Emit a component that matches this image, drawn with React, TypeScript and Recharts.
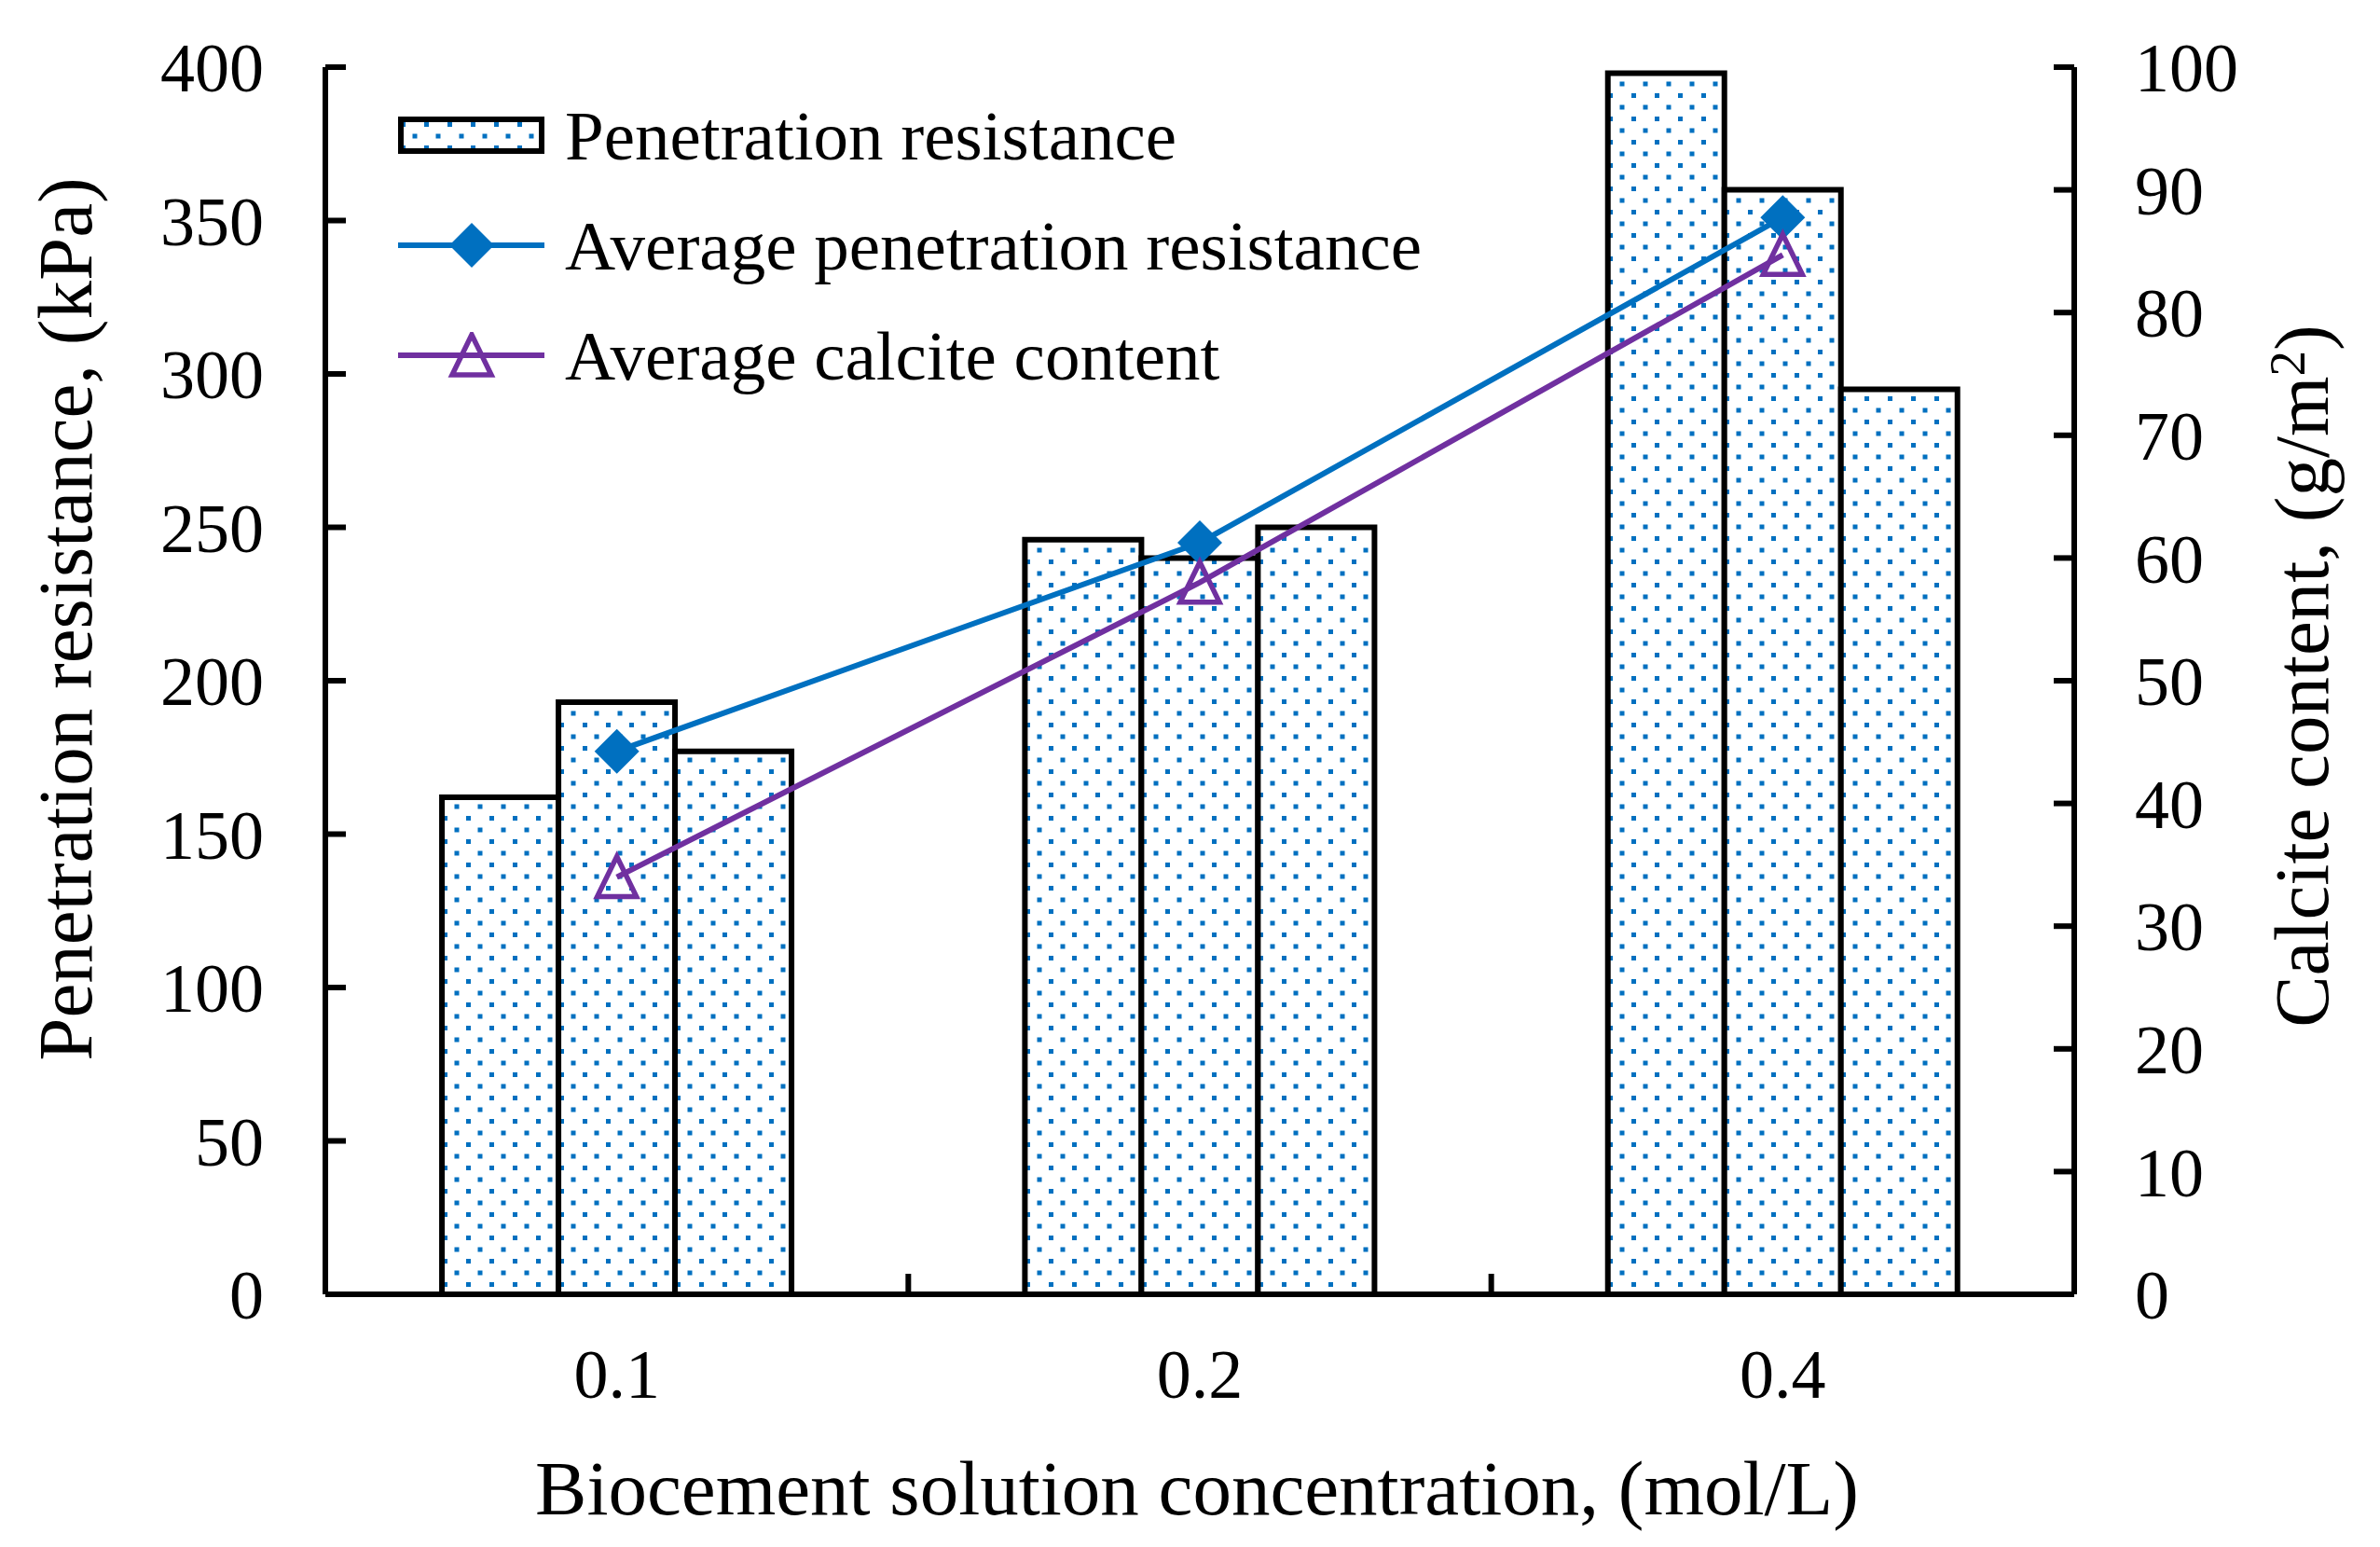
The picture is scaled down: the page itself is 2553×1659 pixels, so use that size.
import React from 'react';
import { ComposedChart, Bar, Line, XAxis, YAxis, Legend } from 'recharts';

// concentrations on the x axis (mol/L)
const concentrations = ['0.1', '0.2', '0.4'];
// penetration resistance of the three specimens, kPa
const specimenA = [162, 246, 398];
const specimenB = [193, 240, 360];
const specimenC = [177, 250, 295];
// averages
const avgPenetration = [177, 245, 351];
const avgCalcite = [34, 58, 84.7];

const leftTicks = [0, 50, 100, 150, 200, 250, 300, 350, 400];
const rightTicks = [0, 10, 20, 30, 40, 50, 60, 70, 80, 90, 100];

const BLUE = '#0070C0';
const PURPLE = '#7030A0';
const FONT = '"Liberation Serif", "Times New Roman", serif';

const data = concentrations.map((c, i) => ({
  conc: c,
  a: specimenA[i],
  b: specimenB[i],
  c: specimenC[i],
  avgPen: avgPenetration[i],
  avgCal: avgCalcite[i],
}));

const tickStyle = { fontSize: 74, fill: '#000', fontFamily: FONT };
const lineStyle = { stroke: '#000', strokeWidth: 6 };
const X_TICK_MARGIN = 59;

// category label plus an inward tick mark on the boundary to the left of the category
const categoryTick = (props: any) => {
  const { x, y, payload, index, width, visibleTicksCount } = props;
  const half = payload?.offset || width / visibleTicksCount / 2;
  const axisY = y - X_TICK_MARGIN;
  return (
    <g key={`xt-${index}`}>
      {index > 0 && (
        <line x1={x - half} x2={x - half} y1={axisY} y2={axisY - 22} stroke="#000" strokeWidth={6} />
      )}
      <text x={x} y={y} dy={52} textAnchor="middle" fontSize={74} fontFamily={FONT} fill="#000">
        {payload.value}
      </text>
    </g>
  );
};

const diamondDot = (props: any) => {
  const { cx, cy, index } = props;
  const r = 24;
  return (
    <polygon
      key={`dia-${index}`}
      points={`${cx},${cy - r} ${cx + r},${cy} ${cx},${cy + r} ${cx - r},${cy}`}
      fill={BLUE}
    />
  );
};

const triangleDot = (props: any) => {
  const { cx, cy, index } = props;
  return (
    <polygon
      key={`tri-${index}`}
      points={`${cx},${cy - 22} ${cx + 21},${cy + 21} ${cx - 21},${cy + 21}`}
      fill="none"
      stroke={PURPLE}
      strokeWidth={5.5}
    />
  );
};

const leftTitle = (props: any) => {
  const { x, y, height } = props.viewBox;
  const tx = x - 250;
  const ty = y + height / 2 - 66;
  return (
    <text
      x={tx}
      y={ty}
      transform={`rotate(-90 ${tx} ${ty})`}
      textAnchor="middle"
      fontSize={83}
      fontFamily={FONT}
      fill="#000"
    >
      Penetration resistance, (kPa)
    </text>
  );
};

const rightTitle = (props: any) => {
  const { x, y, height } = props.viewBox;
  const tx = x + 272;
  const ty = y + height / 2 - 5;
  return (
    <text
      x={tx}
      y={ty}
      transform={`rotate(-90 ${tx} ${ty})`}
      textAnchor="middle"
      fontSize={83}
      fontFamily={FONT}
      fill="#000"
    >
      Calcite content, (g/m
      <tspan dy={-25} fontSize={55}>2</tspan>
      <tspan dy={25}>)</tspan>
    </text>
  );
};

const bottomTitle = (props: any) => {
  const { x, y, width } = props.viewBox;
  return (
    <text
      x={x + width / 2 - 3}
      y={y + 236}
      textAnchor="middle"
      fontSize={83}
      fontFamily={FONT}
      fill="#000"
    >
      Biocement solution concentration, (mol/L)
    </text>
  );
};

const LegendBox = () => {
  const row = { display: 'flex', alignItems: 'center', height: 118 };
  const label = { marginLeft: 22, fontSize: 75, fontFamily: FONT, color: '#000', lineHeight: '75px', whiteSpace: 'nowrap' as const };
  return (
    <div>
      <div style={row}>
        <svg width={157} height={40}>
          <defs>
            <pattern id="dotsLegend" width={25} height={25} patternUnits="userSpaceOnUse">
              <rect width={25} height={25} fill="#fff" />
              <rect x={3} y={6} width={5} height={5} fill={BLUE} />
              <rect x={15.5} y={18.5} width={5} height={5} fill={BLUE} />
            </pattern>
          </defs>
          <rect x={3} y={3} width={151} height={34} fill="url(#dotsLegend)" stroke="#000" strokeWidth={6} />
        </svg>
        <span style={label}>Penetration resistance</span>
      </div>
      <div style={row}>
        <svg width={157} height={50}>
          <line x1={0} y1={25} x2={157} y2={25} stroke={BLUE} strokeWidth={6} />
          <polygon points="79,1 103,25 79,49 55,25" fill={BLUE} />
        </svg>
        <span style={label}>Average penetration resistance</span>
      </div>
      <div style={row}>
        <svg width={157} height={50}>
          <line x1={0} y1={25} x2={157} y2={25} stroke={PURPLE} strokeWidth={6} />
          <polygon points="79,3 100,46 58,46" fill="none" stroke={PURPLE} strokeWidth={5.5} />
        </svg>
        <span style={label}>Average calcite content</span>
      </div>
    </div>
  );
};

export default function App() {
  return (
    <div style={{ position: 'absolute', left: 0, top: 0, background: '#fff' }}>
      <ComposedChart
        width={2553}
        height={1659}
        data={data}
        margin={{ top: 72, right: 327, bottom: 270, left: 348 }}
        barCategoryGap="20%"
        barGap={0}
      >
        <defs>
          <pattern id="dots" width={25} height={25} patternUnits="userSpaceOnUse">
            <rect width={25} height={25} fill="#fff" />
            <rect x={0} y={0} width={5} height={5} fill={BLUE} />
            <rect x={12.5} y={12.5} width={5} height={5} fill={BLUE} />
          </pattern>
        </defs>
        <XAxis
          dataKey="conc"
          height={1}
          interval={0}
          axisLine={lineStyle}
          tickLine={false}
          tickSize={0}
          tickMargin={X_TICK_MARGIN}
          tick={categoryTick}
          label={bottomTitle}
        />
        <YAxis
          yAxisId="l"
          width={1}
          domain={[0, 400]}
          ticks={leftTicks}
          interval={0}
          axisLine={lineStyle}
          tickLine={lineStyle}
          tickSize={-22}
          tickMargin={88}
          tick={tickStyle}
          label={leftTitle}
        />
        <YAxis
          yAxisId="r"
          orientation="right"
          width={1}
          domain={[0, 100]}
          ticks={rightTicks}
          interval={0}
          axisLine={lineStyle}
          tickLine={lineStyle}
          tickSize={-22}
          tickMargin={87}
          tick={tickStyle}
          label={rightTitle}
        />
        <Legend
          layout="horizontal"
          verticalAlign="middle"
          align="center"
          wrapperStyle={{ position: 'absolute', top: 86, left: 427, width: 'auto' }}
          content={() => <LegendBox />}
        />
        <Bar yAxisId="l" dataKey="a" fill="url(#dots)" stroke="#000" strokeWidth={6} isAnimationActive={false} />
        <Bar yAxisId="l" dataKey="b" fill="url(#dots)" stroke="#000" strokeWidth={6} isAnimationActive={false} />
        <Bar yAxisId="l" dataKey="c" fill="url(#dots)" stroke="#000" strokeWidth={6} isAnimationActive={false} />
        <Line
          yAxisId="l"
          dataKey="avgPen"
          stroke={BLUE}
          strokeWidth={6}
          dot={diamondDot}
          activeDot={false}
          isAnimationActive={false}
        />
        <Line
          yAxisId="r"
          dataKey="avgCal"
          stroke={PURPLE}
          strokeWidth={6}
          dot={triangleDot}
          activeDot={false}
          isAnimationActive={false}
        />
      </ComposedChart>
    </div>
  );
}
